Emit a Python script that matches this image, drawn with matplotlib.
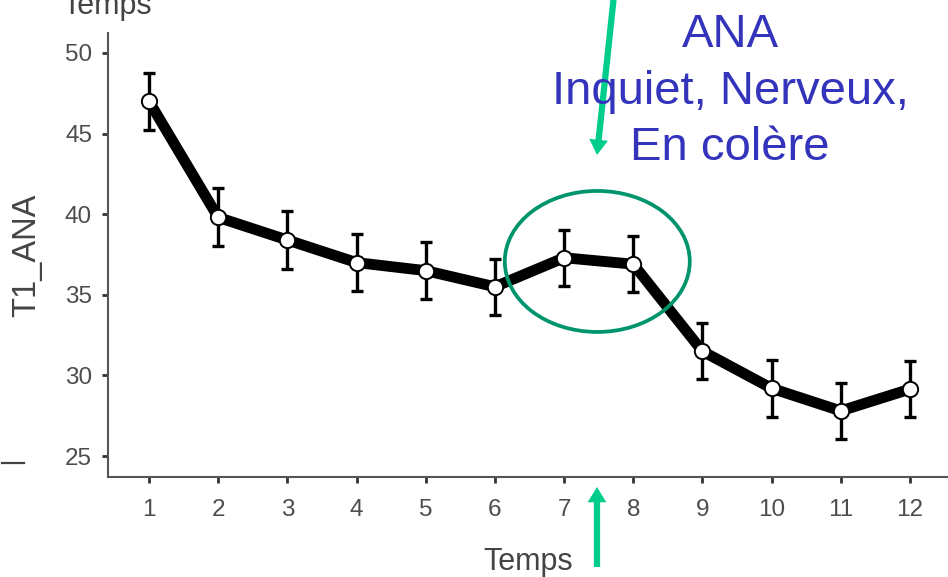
import matplotlib.pyplot as plt
from matplotlib.patches import Ellipse, FancyArrowPatch

plt.rcParams['font.family'] = ['Liberation Sans', 'DejaVu Sans']

# data
temps = [1, 2, 3, 4, 5, 6, 7, 8, 9, 10, 11, 12]
t1_ana = [47.0, 39.8, 38.4, 37.0, 36.5, 35.5, 37.3, 36.9, 31.5, 29.2, 27.8, 29.15]
t1_err = [1.75, 1.8, 1.8, 1.78, 1.75, 1.75, 1.75, 1.75, 1.75, 1.75, 1.75, 1.75]
yticks = [25, 30, 35, 40, 45, 50]
note_lines = ['ANA', 'Inquiet, Nerveux,', 'En colère']

W, H = 948, 577

def fx(x):
    return x / W

def fy(y):
    return 1 - y / H

fig = plt.figure(figsize=(W / 100, H / 100), dpi=100)
ax = fig.add_axes([fx(108), fy(477), fx(840), 444 / H])

ax.errorbar(temps, t1_ana, yerr=t1_err, fmt='none', ecolor='black',
            elinewidth=2.4, capsize=4, capthick=2.4, zorder=2)
ax.plot(temps, t1_ana, color='black', lw=7.8, solid_joinstyle='miter', zorder=3)
ax.plot(temps, t1_ana, 'o', ms=11, mfc='white', mec='black', mew=1.4, zorder=4)

ax.set_xlim(0.407, 12.55)
ax.set_ylim(23.7, 51.24)
ax.set_xticks(temps)
ax.set_yticks(yticks)

for s in ['top', 'right']:
    ax.spines[s].set_visible(False)
for s in ['left', 'bottom']:
    ax.spines[s].set_color('#555555')
    ax.spines[s].set_linewidth(1.5)

ax.tick_params(axis='both', colors='#333333', labelcolor='#4d4d4d',
               labelsize=17.5, length=4.5, width=2)
ax.tick_params(axis='x', pad=11)
ax.tick_params(axis='y', pad=7)

ax.set_xlabel('Temps', fontsize=22, color='#444444', labelpad=19)
ax.set_ylabel('T1_ANA', fontsize=23.5, color='#444444', labelpad=16)

# green ellipse round times 7-8
ell = Ellipse((7.48, 37.07), width=185 / 69.18, height=141 / 16.12,
              fill=False, edgecolor='#00946c', lw=2.7, zorder=5, clip_on=False)
ax.add_patch(ell)

# arrows
arr_style = 'simple,head_length=1.1,head_width=1.35,tail_width=0.45'
top_arrow = FancyArrowPatch((fx(614), fy(-5)), (fx(597), fy(155)),
                            transform=fig.transFigure, arrowstyle=arr_style,
                            mutation_scale=10, color='#00cc8c', lw=0,
                            shrinkA=0, shrinkB=0)
fig.add_artist(top_arrow)
bottom_arrow = FancyArrowPatch((fx(597), fy(567)), (fx(597), fy(487)),
                               transform=fig.transFigure, arrowstyle=arr_style,
                               mutation_scale=10, color='#00cc8c', lw=0,
                               shrinkA=0, shrinkB=0)
fig.add_artist(bottom_arrow)

# blue note
baselines = [47, 104, 160]
for line, yb in zip(note_lines, baselines):
    fig.text(fx(730), fy(yb), line, fontsize=34, color='#3333bb',
             ha='center', va='baseline')

# leftovers of the slide
fig.text(fx(62), fy(14), 'Temps', fontsize=22, color='#444444',
         ha='left', va='baseline')
ax.plot([fx(2), fx(24)], [fy(463), fy(463)], transform=fig.transFigure,
        color='#444444', lw=1.6, clip_on=False)

fig.savefig('out.png', dpi=100)
